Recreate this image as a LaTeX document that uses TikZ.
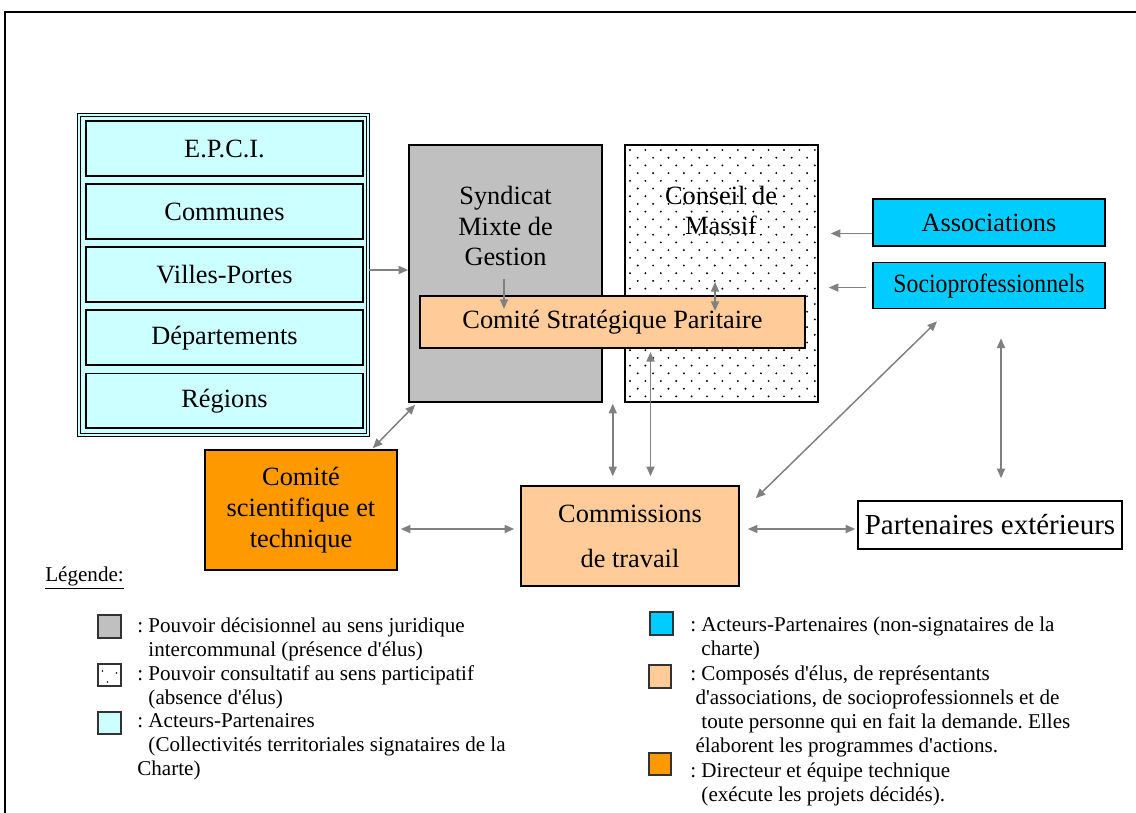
\documentclass[tikz,border=0pt]{standalone}
\usepackage{fontspec}
\setmainfont{Liberation Serif}
\usepackage{graphicx}
\usetikzlibrary{arrows.meta,positioning,calc}
\frenchspacing

\definecolor{paleblue}{HTML}{CCFFFF}
\definecolor{midgray}{HTML}{C0C0C0}
\definecolor{peach}{HTML}{FFCC99}
\definecolor{skyblue}{HTML}{00CCFF}
\definecolor{deeporange}{HTML}{FF9900}
\definecolor{linkgray}{HTML}{808080}

\begin{document}
\begin{tikzpicture}[x=0.02cm, y=-0.02cm,
        every node/.style={align=center, inner sep=0pt, font=\fontsize{15}{17.6}\selectfont},
        box/.style={draw=black, line width=0.9pt},
        rowbox/.style={box, fill=paleblue, minimum width=5.54cm, minimum height=1.1cm},
        legsq/.style={draw=black!80, line width=0.9pt, minimum size=0.45cm},
        legtext/.style={anchor=north west, align=left, font=\fontsize{12}{13.6}\selectfont},
        link/.style={draw=linkgray, line width=0.85pt, -{Triangle[length=5.5pt,width=4.6pt]}},
        twoway/.style={link, {Triangle[length=5.5pt,width=4.6pt]}-{Triangle[length=5.5pt,width=4.6pt]}}
    ]
        \useasboundingbox (0,0) rectangle (1136,812);
        \draw[line width=1.3pt] (5,830) -- (5,12) -- (1150,12);

        % collectivites
        \node[draw=black, line width=0.7pt, double=paleblue, double distance=1pt, fill=paleblue,
              minimum width=5.78cm, minimum height=6.4cm] (stack) at (223.5,275) {};
        \node[rowbox] (epci) at (224.5,148.5) {E.P.C.I.};
        \node[rowbox, below=0.13cm of epci] (communes) {Communes};
        \node[rowbox, below=0.13cm of communes] (villes) {Villes-Portes};
        \node[rowbox, below=0.13cm of villes] (depts) {Départements};
        \node[rowbox, below=0.13cm of depts] (regions) {Régions};

        % syndicat et conseil
        \node[box, fill=midgray, minimum width=3.86cm, minimum height=5.14cm] (synd) at (505.5,273.5) {};
        \node (syndtxt) at (505.5,226) {Syndicat\\Mixte de\\Gestion};
        \node[box, fill=white, minimum width=3.86cm, minimum height=5.14cm] (conseil) at (721.5,273.5) {};
        \begin{scope}
            \clip ($(conseil.south west)+(2,-2)$) rectangle ($(conseil.north east)+(-2,2)$);
            \foreach \r in {0,...,33} {
                \pgfmathsetmacro\dx{mod(\r,2)*7.7}
                \foreach \c in {0,...,12}
                    \fill (630+\dx+15.4*\c, 150+7.7*\r) circle[radius=0.6pt];
            }
        \end{scope}
        \node (conseiltxt) at (721,210.5) {Conseil de\\Massif};
        \node[box, line width=1.2pt, fill=peach, minimum width=7.7cm, minimum height=1.04cm] (csp) at (612.5,322) {Comité Stratégique Paritaire};

        % acteurs
        \node[box, fill=skyblue, minimum width=4.64cm, minimum height=0.94cm] (assoc) at (989,222.5) {Associations};
        \node[box, fill=skyblue, minimum width=4.64cm, minimum height=0.92cm, below=0.3cm of assoc] (socio) {\scalebox{0.9}[1]{Socioprofessionnels}};

        \node[box, fill=deeporange, minimum width=3.84cm, minimum height=2.4cm] (cst) at (301,510) {Comité\\scientifique et\\technique};
        \node[box, fill=peach, minimum width=4.36cm, minimum height=2cm, font=\fontsize{15}{25.5}\selectfont] (comm) at (630,536) {Commissions\\de travail};
        \node[box, fill=white, minimum width=5.28cm, minimum height=0.96cm, font=\fontsize{16.5}{19}\selectfont] (part) at (990,525) {Partenaires extérieurs};

        % liens
        \draw[link] ($(stack.east)+(0,-5)$) -- ($(synd.west |- stack.east)+(0,-5)$);
        \draw[link] ($(csp.north west)+(85,-16)$) -- ($(csp.north west)+(85,14)$);
        \draw[twoway] ($(csp.north)+(102.5,-13)$) -- ($(csp.north)+(102.5,16)$);
        \draw[link] ($(assoc.west)+(0,11)$) -- ($(conseil.east |- assoc.west)+(12,11)$);
        \draw[link] ($(socio.west)+(-6,2)$) -- ($(conseil.east |- socio.west)+(10,2)$);
        \draw[twoway] ($(cst.north east)+(-25,-1)$) -- ($(synd.south west)+(7,2)$);
        \draw[twoway] ($(synd.south east)+(10,1)$) -- ($(synd.south east |- comm.north)+(10,-9)$);
        \draw[twoway] ($(csp.south)+(38,3)$) -- ($(csp.south |- comm.north)+(38,-9)$);
        \draw[twoway] ($(socio.south)+(-52,12)$) -- ($(comm.north east)+(16,13)$);
        \draw[twoway] ($(socio.south)+(12,29)$) -- ($(part.north)+(11,-22)$);
        \draw[twoway] ($(cst.east)+(3,19)$) -- ($(cst.east -| comm.west)+(-6,19)$);
        \draw[twoway] ($(comm.east)+(8,-7)$) -- ($(comm.east -| part.west)+(-2,-7)$);

        % legende
        \node[legtext, anchor=base west] (legtitle) at (45,581) {\underline{Légende:}};
        \node[legsq, fill=midgray] (legg) at (109.5,626.5) {};
        \node[legsq, fill=white] (legd) at (109.5,675) {};
        \fill ($(legd.center)+(-7,-4)$) circle[radius=0.5pt];
        \fill ($(legd.center)+(7,-2)$) circle[radius=0.5pt];
        \fill ($(legd.center)+(-2,7)$) circle[radius=0.5pt];
        \node[legsq, fill=paleblue] (legc) at (109.5,723) {};
        \node[legtext] (legdec) at (137,617.5) {: Pouvoir décisionnel au sens juridique\\\hphantom{: }intercommunal (présence d\textquotesingle élus)};
        \node[legtext] (legcons) at (137,665.5) {: Pouvoir consultatif au sens participatif\\\hphantom{: }(absence d\textquotesingle élus)};
        \node[legtext] (legsig) at (137,713.5) {: Acteurs-Partenaires\\\hphantom{: }(Collectivités territoriales signataires de la\\Charte)};

        \node[legsq, fill=skyblue] (legb) at (661.5,623.5) {};
        \node[legsq, fill=peach] (legp) at (660,676.5) {};
        \node[legsq, fill=deeporange] (lego) at (660,764) {};
        \node[legtext] (legnon) at (690,616.5) {: Acteurs-Partenaires (non-signataires de la\\\hphantom{: }charte)};
        \node[legtext] (legcomp) at (690,665.5) {: Composés d\textquotesingle élus, de représentants\\\hspace*{0.25em}d\textquotesingle associations, de socioprofessionnels et de\\\hphantom{: }toute personne qui en fait la demande. Elles\\\hspace*{0.25em}élaborent les programmes d\textquotesingle actions.};
        \node[legtext] (legdir) at (690,762.5) {: Directeur et équipe technique\\\hphantom{: }(exécute les projets décidés).};
    \end{tikzpicture}
\end{document}
